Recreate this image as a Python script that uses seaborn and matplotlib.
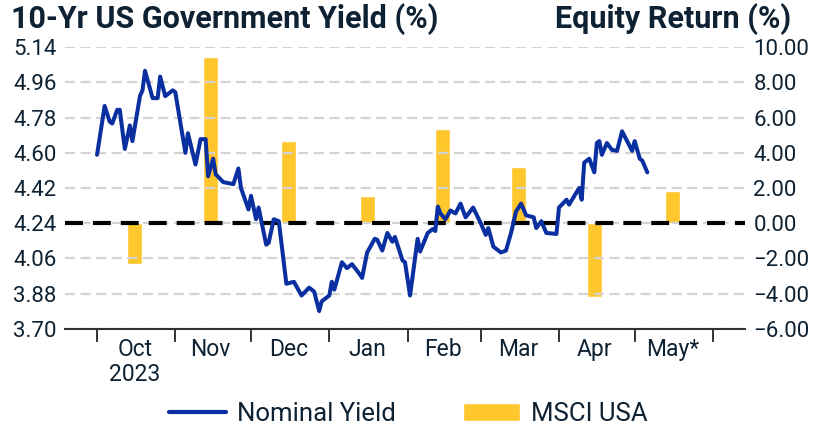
import pandas as pd
import numpy as np
import matplotlib
matplotlib.use('Agg')
import matplotlib.pyplot as plt
import matplotlib.dates as mdates
from matplotlib.lines import Line2D
from matplotlib.patches import Patch
import seaborn as sns

# 10-yr yield
yield_dates = ['2023-10-01', '2023-10-04', '2023-10-06', '2023-10-07', '2023-10-09', '2023-10-10',
               '2023-10-12', '2023-10-14', '2023-10-15', '2023-10-18', '2023-10-19', '2023-10-20',
               '2023-10-23', '2023-10-25', '2023-10-26', '2023-10-28', '2023-10-29', '2023-10-31',
               '2023-11-01', '2023-11-05', '2023-11-06', '2023-11-09', '2023-11-11', '2023-11-13',
               '2023-11-14', '2023-11-16', '2023-11-17', '2023-11-20', '2023-11-24', '2023-11-26',
               '2023-11-27', '2023-11-30', '2023-12-01', '2023-12-03', '2023-12-04', '2023-12-07',
               '2023-12-08', '2023-12-10', '2023-12-12', '2023-12-15', '2023-12-18', '2023-12-21',
               '2023-12-24', '2023-12-26', '2023-12-28', '2023-12-29', '2024-01-01', '2024-01-02',
               '2024-01-03', '2024-01-06', '2024-01-08', '2024-01-10', '2024-01-13', '2024-01-14',
               '2024-01-16', '2024-01-19', '2024-01-20', '2024-01-22', '2024-01-24', '2024-01-26',
               '2024-01-27', '2024-01-30', '2024-01-31', '2024-02-02', '2024-02-05', '2024-02-06',
               '2024-02-09', '2024-02-11', '2024-02-12', '2024-02-13', '2024-02-14', '2024-02-16',
               '2024-02-18', '2024-02-20', '2024-02-22', '2024-02-24', '2024-02-27', '2024-03-01',
               '2024-03-03', '2024-03-04', '2024-03-06', '2024-03-09', '2024-03-11', '2024-03-13',
               '2024-03-15', '2024-03-17', '2024-03-19', '2024-03-22', '2024-03-23', '2024-03-25',
               '2024-03-27', '2024-03-31', '2024-04-01', '2024-04-04', '2024-04-05', '2024-04-09',
               '2024-04-10', '2024-04-11', '2024-04-13', '2024-04-15', '2024-04-16', '2024-04-17',
               '2024-04-18', '2024-04-20', '2024-04-22', '2024-04-24', '2024-04-26', '2024-04-30',
               '2024-05-01', '2024-05-03', '2024-05-04', '2024-05-06']
yield_values = [4.59, 4.84, 4.76, 4.75, 4.82, 4.82,
                4.62, 4.74, 4.66, 4.89, 4.92, 5.02,
                4.88, 4.88, 4.99, 4.89, 4.90, 4.92,
                4.91, 4.60, 4.70, 4.54, 4.67, 4.67,
                4.48, 4.57, 4.49, 4.45, 4.44, 4.52,
                4.42, 4.31, 4.38, 4.26, 4.32, 4.13,
                4.14, 4.26, 4.25, 3.93, 3.94, 3.87,
                3.91, 3.89, 3.79, 3.84, 3.87, 3.94,
                3.90, 4.04, 4.01, 4.03, 3.98, 3.96,
                4.09, 4.16, 4.155, 4.10, 4.19, 4.145,
                4.17, 4.05, 4.04, 3.87, 4.16, 4.095,
                4.19, 4.21, 4.20, 4.325, 4.29, 4.26,
                4.305, 4.29, 4.34, 4.27, 4.32, 4.24,
                4.18, 4.215, 4.12, 4.09, 4.10, 4.19,
                4.30, 4.34, 4.28, 4.27, 4.215, 4.25,
                4.19, 4.185, 4.32, 4.36, 4.335, 4.42,
                4.36, 4.55, 4.57, 4.50, 4.65, 4.66,
                4.59, 4.65, 4.615, 4.61, 4.71, 4.61,
                4.66, 4.57, 4.56, 4.50]

# monthly MSCI USA return
month_labels = ['Oct\n2023', 'Nov', 'Dec', 'Jan', 'Feb', 'Mar', 'Apr', 'May*']
month_mid = ['2023-10-16', '2023-11-15', '2023-12-16', '2024-01-16',
             '2024-02-15', '2024-03-16', '2024-04-15', '2024-05-16']
msci_returns = [-2.3, 9.45, 4.7, 1.55, 5.35, 3.2, -4.2, 1.85]
month_edges = ['2023-10-01', '2023-11-01', '2023-12-01', '2024-01-01', '2024-02-01',
               '2024-03-01', '2024-04-01', '2024-05-01', '2024-06-01']

yield_ticks = [3.70, 3.88, 4.06, 4.24, 4.42, 4.60, 4.78, 4.96, 5.14]
return_ticks = [-6, -4, -2, 0, 2, 4, 6, 8, 10]

navy = '#0E2233'
blue = '#0A2FA0'
gold = '#FFC72C'

sns.set_style('white')
plt.rcParams['font.family'] = ['Roboto', 'DejaVu Sans']
plt.rcParams['text.color'] = navy
plt.rcParams['xtick.color'] = navy
plt.rcParams['ytick.color'] = navy

df = pd.DataFrame({'date': mdates.date2num(pd.to_datetime(yield_dates)), 'yield': yield_values})
bars = pd.DataFrame({'date': mdates.date2num(pd.to_datetime(month_mid)), 'ret': msci_returns})
edges = mdates.date2num(pd.to_datetime(month_edges))

fig = plt.figure(figsize=(8.17, 4.29), dpi=100)
ax = fig.add_axes([65 / 817, 1 - 328.7 / 429, 680 / 817, 281.4 / 429])
ax2 = ax.twinx()

sns.barplot(data=bars, x='date', y='ret', ax=ax2, native_scale=True, orient='x',
            color=gold, saturation=1, width=0.2, errorbar=None)

ax.set_zorder(ax2.get_zorder() + 1)
ax.patch.set_visible(False)

ax.axhline(4.24, color='black', lw=3, dashes=(4.3, 2.4), zorder=2)
sns.lineplot(data=df, x='date', y='yield', ax=ax, color=blue, lw=2.9, zorder=3)

ax.set_ylim(3.70, 5.14)
ax2.set_ylim(-6, 10)
ax.set_xlim(edges[0] - 12.7, edges[-1] + 12.7)

ax.set_yticks(yield_ticks)
ax.set_yticklabels([f'{v:.2f}' for v in yield_ticks])
ax2.set_yticks(return_ticks)
ax2.set_yticklabels([f'{v:.2f}'.replace('-', '\u2212') for v in return_ticks])
ax.tick_params(axis='y', length=0, labelsize=16, pad=6)
ax2.tick_params(axis='y', length=0, labelsize=16, pad=6)

ax.yaxis.grid(True, color='#D3D3D3', lw=1.6, dashes=(4.5, 2.5))
ax.set_axisbelow(True)

ax.set_xticks(edges)
ax.set_xticklabels([''] * len(edges))
ax.set_xticks(bars['date'], minor=True)
ax.set_xticklabels(month_labels, minor=True, linespacing=1.1)
ax.tick_params(axis='x', which='major', bottom=True, length=9, width=1.4,
               color='#333333', direction='out')
ax.tick_params(axis='x', which='minor', bottom=True, length=0, labelsize=16.5, pad=7)

for a in (ax, ax2):
    a.set_xlabel('')
    a.set_ylabel('')
    for side in ('left', 'right', 'top'):
        a.spines[side].set_visible(False)
ax.spines['bottom'].set_color('#333333')
ax.spines['bottom'].set_linewidth(1.5)
ax2.spines['bottom'].set_visible(False)

fig.text(0.013, 0.992, '10-Yr US Government Yield (%)', fontsize=22, fontweight='bold',
         ha='left', va='top')
fig.text(0.968, 0.992, 'Equity Return (%)', fontsize=22, fontweight='bold',
         ha='right', va='top')

handles = [Line2D([], [], color=blue, lw=3), Patch(facecolor=gold)]
fig.legend(handles, ['Nominal Yield', 'MSCI USA'], loc='center', bbox_to_anchor=(0.5, 0.035),
           ncol=2, frameon=False, fontsize=18.5, handlelength=2.2, columnspacing=2.6,
           handletextpad=0.45, borderpad=0)

fig.savefig('out.png', dpi=100)
